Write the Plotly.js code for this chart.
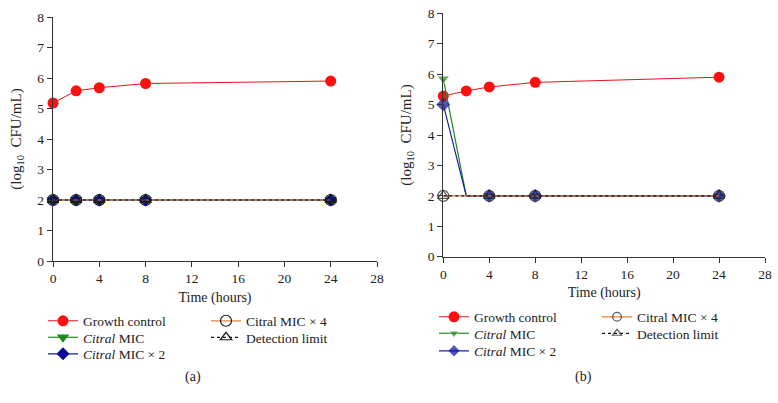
<!DOCTYPE html>
<html>
<head>
<meta charset="utf-8">
<script src="https://cdn.plot.ly/plotly-3.0.1.min.js"></script>
<style>html,body{margin:0;padding:0;background:#fff}#chart{width:778px;height:403px}</style>
</head>
<body>
<div id="chart"></div>
<script>
// ---- data ----
const timesA = [0, 2, 4, 8, 24];
const growthA = [5.18, 5.58, 5.68, 5.82, 5.90];
const micA = [2, 2, 2, 2, 2];
const mic2A = [2, 2, 2, 2, 2];
const mic4A = [2, 2, 2, 2, 2];
const detA = [2, 2, 2, 2, 2];

const timesB = [0, 2, 4, 8, 24];
const growthB = [5.28, 5.45, 5.58, 5.73, 5.90];
const micB = [5.85, 2, 2, 2, 2];
const mic2B = [5.00, 2, 2, 2, 2];
const mic4B = [2, 2, 2, 2, 2];
const detB = [2, 2, 2, 2, 2];
// whether a marker was plotted at each time in panel (b)
const sampledB = [true, false, true, true, true];

const xTicks = [0, 4, 8, 12, 16, 20, 24, 28];
const yTicks = [0, 1, 2, 3, 4, 5, 6, 7, 8];

const names = ['Growth control', '<i>Citral</i> MIC', '<i>Citral</i> MIC × 2', 'Citral MIC × 4', 'Detection limit'];

// ---- styles ----
const styles = [
  {line: {color: '#e8141c', width: 1}, marker: {symbol: 'circle', color: '#ff1010', size: 11}},
  {line: {color: '#1e8a1e', width: 1.2}, marker: {symbol: 'triangle-down', color: '#1e8a1e', size: 11}},
  {line: {color: '#1a1ab0', width: 1.2}, marker: {symbol: 'diamond', color: '#0a0a9a', size: 10}},
  {line: {color: '#e8823a', width: 1.2}, marker: {symbol: 'circle-open', color: '#1a1a1a', size: 11, line: {width: 1.2}}},
  {line: {color: '#111', width: 1.2, dash: 'dot'}, marker: {symbol: 'triangle-up-open', color: '#1a1a1a', size: 10, line: {width: 1.2}}}
];

function mk(i, x, y, xa, ya, legend, sizesFlags) {
  const st = JSON.parse(JSON.stringify(styles[i]));
  if (sizesFlags) st.marker.size = sizesFlags.map(f => f ? st.marker.size : 0);
  return {
    type: 'scatter', mode: 'lines+markers', x: x, y: y, name: names[i],
    xaxis: xa, yaxis: ya, legend: legend, line: st.line, marker: st.marker,
    cliponaxis: false
  };
}

const seriesA = [growthA, micA, mic2A, mic4A, detA];
const seriesB = [growthB, micB, mic2B, mic4B, detB];
const legIds = ['legend', 'legend2', 'legend3', 'legend4', 'legend5', 'legend6', 'legend7', 'legend8', 'legend9', 'legend10'];
const data = [];
seriesA.forEach((s, i) => data.push(mk(i, timesA, s, 'x', 'y', legIds[i], null)));
seriesB.forEach((s, i) => data.push(mk(i, timesB, s, 'x2', 'y2', legIds[5 + i], i === 0 ? null : sampledB)));

const fontFam = '"Liberation Serif", "Times New Roman", serif';
function xax(domain, anchor) {
  return {
    domain: domain, anchor: anchor, range: [0, 28], tickvals: xTicks, ticktext: xTicks.map(String),
    showgrid: false, zeroline: false, showline: true, linecolor: '#333', linewidth: 1.2,
    ticks: 'outside', ticklen: 5, tickcolor: '#333', tickfont: {size: 13.5, color: '#222'},
    title: {text: 'Time (hours)', font: {size: 14, color: '#222'}, standoff: 6}
  };
}
function yax(domain, anchor) {
  return {
    domain: domain, anchor: anchor, range: [0, 8], tickvals: yTicks, ticktext: yTicks.map(String),
    showgrid: false, zeroline: false, showline: true, linecolor: '#333', linewidth: 1.2,
    ticks: 'outside', ticklen: 5, tickcolor: '#333', tickfont: {size: 13.5, color: '#222'},
    title: {text: '(log<sub>10</sub>&nbsp; CFU/mL)', font: {size: 15, color: '#222'}, standoff: 12}
  };
}
function leg(xTextPx, rowCenterPx) {
  return {x: (xTextPx - 40) / 778, y: 1 - (rowCenterPx - 15.5) / 403, xanchor: 'left', yanchor: 'top',
    orientation: 'v', bgcolor: 'rgba(0,0,0,0)',
    font: {size: 13.5, color: '#222', family: fontFam}, tracegroupgap: 0};
}

// legend text x (px) and row centre (px) for each of the ten entries
const legPos = [
  [83, 321], [83, 337.5], [83, 354], [246, 321], [246, 337.5],
  [474, 317], [474, 333.5], [474, 351], [637, 317], [637, 333.5]
];

const layout = {
  width: 778, height: 403,
  margin: {l: 0, r: 0, t: 0, b: 0},
  paper_bgcolor: '#fff', plot_bgcolor: '#fff',
  font: {family: fontFam, color: '#222'},
  showlegend: true,
  xaxis: xax([53 / 778, 377 / 778], 'y'),
  yaxis: yax([1 - 261 / 403, 1 - 17 / 403], 'x'),
  xaxis2: xax([443.3 / 778, 765 / 778], 'y2'),
  yaxis2: yax([1 - 256.7 / 403, 1 - 13.3 / 403], 'x2'),
  annotations: [
    {text: '(a)', xref: 'paper', yref: 'paper', x: 193 / 778, y: 1 - 377 / 403, yanchor: 'middle', xanchor: 'center', showarrow: false, font: {size: 14, color: '#222'}},
    {text: '(b)', xref: 'paper', yref: 'paper', x: 583 / 778, y: 1 - 377 / 403, yanchor: 'middle', xanchor: 'center', showarrow: false, font: {size: 14, color: '#222'}}
  ]
};
legIds.forEach((id, k) => { layout[id] = leg(legPos[k][0], legPos[k][1]); });

Plotly.newPlot('chart', data, layout, {displayModeBar: false, staticPlot: true});
</script>
</body>
</html>
